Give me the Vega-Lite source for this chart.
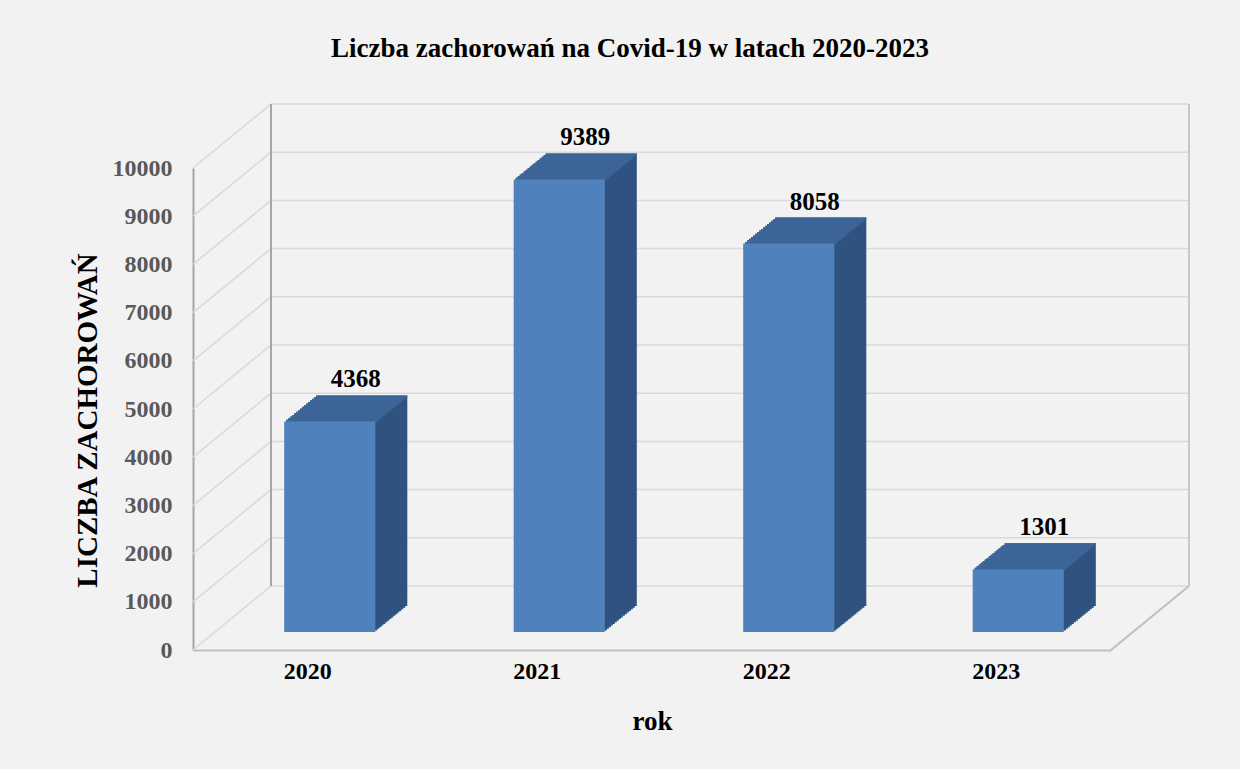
{
  "$schema": "https://vega.github.io/schema/vega-lite/v6.json",
  "width": 918,
  "height": 482,
  "autosize": {"type": "none"},
  "padding": {"left": 193, "top": 168, "right": 129, "bottom": 119},
  "background": "#f2f2f2",
  "config": {
    "view": {"stroke": null},
    "font": "Liberation Serif"
  },
  "title": {
    "text": "Liczba zachorowań na Covid-19 w latach 2020-2023",
    "font": "Liberation Serif",
    "fontSize": 27,
    "fontWeight": "bold",
    "color": "#000000",
    "anchor": "middle",
    "frame": "group",
    "dx": -22,
    "offset": 40
  },
  "datasets": {
    "covid": [
      {"rok": "2020", "value": 4368},
      {"rok": "2021", "value": 9389},
      {"rok": "2022", "value": 8058},
      {"rok": "2023", "value": 1301}
    ],
    "grid": [
      {"v": 0}, {"v": 1000}, {"v": 2000}, {"v": 3000}, {"v": 4000}, {"v": 5000},
      {"v": 6000}, {"v": 7000}, {"v": 8000}, {"v": 9000}, {"v": 10000}
    ],
    "one": [{"edge": "frame"}]
  },
  "data": {"name": "covid"},
  "layer": [
    {
      "data": {"name": "grid"},
      "mark": {"type": "rule", "color": "#d9d9d9", "strokeWidth": 1.5, "xOffset": 78, "x2Offset": 78, "yOffset": -64},
      "encoding": {
        "x": {"datum": "2020", "type": "nominal", "bandPosition": 0},
        "x2": {"datum": "2023", "bandPosition": 1},
        "y": {"field": "v", "type": "quantitative"}
      }
    },
    {
      "data": {"name": "grid"},
      "mark": {"type": "rule", "color": "#d9d9d9", "strokeWidth": 1.5, "x2Offset": 78, "y2Offset": -64},
      "encoding": {
        "x": {"datum": "2020", "type": "nominal", "bandPosition": 0},
        "x2": {"datum": "2020", "bandPosition": 0},
        "y": {"field": "v", "type": "quantitative"},
        "y2": {"field": "v"}
      }
    },
    {
      "data": {"name": "one"},
      "mark": {"type": "rule", "color": "#a6a6a6", "strokeWidth": 2, "xOffset": 78, "yOffset": -64, "y2Offset": -64},
      "encoding": {
        "x": {"datum": "2020", "type": "nominal", "bandPosition": 0},
        "y": {"datum": 0, "type": "quantitative"},
        "y2": {"datum": 10000}
      }
    },
    {
      "data": {"name": "one"},
      "mark": {"type": "rule", "color": "#c8c8c8", "strokeWidth": 2, "xOffset": 78, "yOffset": -64, "y2Offset": -64},
      "encoding": {
        "x": {"datum": "2023", "type": "nominal", "bandPosition": 1},
        "y": {"datum": 0, "type": "quantitative"},
        "y2": {"datum": 10000}
      }
    },
    {
      "data": {"name": "one"},
      "mark": {"type": "rule", "color": "#bfbfbf", "strokeWidth": 2, "x2Offset": 78, "y2Offset": -64},
      "encoding": {
        "x": {"datum": "2023", "type": "nominal", "bandPosition": 1},
        "x2": {"datum": "2023", "bandPosition": 1},
        "y": {"datum": 0, "type": "quantitative"},
        "y2": {"datum": 0}
      }
    },
    {"mark": {"type": "bar", "color": "#30527f", "width": {"band": 0.397}, "xOffset": 54, "yOffset": -44, "y2Offset": -44}, "encoding": {"x": {"field": "rok", "type": "nominal"}, "y": {"field": "value", "type": "quantitative"}}},
    {"mark": {"type": "bar", "color": "#30527f", "width": {"band": 0.397}, "xOffset": 52, "yOffset": -42.375, "y2Offset": -42.375}, "encoding": {"x": {"field": "rok", "type": "nominal"}, "y": {"field": "value", "type": "quantitative"}}},
    {"mark": {"type": "bar", "color": "#30527f", "width": {"band": 0.397}, "xOffset": 50, "yOffset": -40.75, "y2Offset": -40.75}, "encoding": {"x": {"field": "rok", "type": "nominal"}, "y": {"field": "value", "type": "quantitative"}}},
    {"mark": {"type": "bar", "color": "#30527f", "width": {"band": 0.397}, "xOffset": 48, "yOffset": -39.125, "y2Offset": -39.125}, "encoding": {"x": {"field": "rok", "type": "nominal"}, "y": {"field": "value", "type": "quantitative"}}},
    {"mark": {"type": "bar", "color": "#30527f", "width": {"band": 0.397}, "xOffset": 46, "yOffset": -37.5, "y2Offset": -37.5}, "encoding": {"x": {"field": "rok", "type": "nominal"}, "y": {"field": "value", "type": "quantitative"}}},
    {"mark": {"type": "bar", "color": "#30527f", "width": {"band": 0.397}, "xOffset": 44, "yOffset": -35.875, "y2Offset": -35.875}, "encoding": {"x": {"field": "rok", "type": "nominal"}, "y": {"field": "value", "type": "quantitative"}}},
    {"mark": {"type": "bar", "color": "#30527f", "width": {"band": 0.397}, "xOffset": 42, "yOffset": -34.25, "y2Offset": -34.25}, "encoding": {"x": {"field": "rok", "type": "nominal"}, "y": {"field": "value", "type": "quantitative"}}},
    {"mark": {"type": "bar", "color": "#30527f", "width": {"band": 0.397}, "xOffset": 40, "yOffset": -32.625, "y2Offset": -32.625}, "encoding": {"x": {"field": "rok", "type": "nominal"}, "y": {"field": "value", "type": "quantitative"}}},
    {"mark": {"type": "bar", "color": "#30527f", "width": {"band": 0.397}, "xOffset": 38, "yOffset": -31, "y2Offset": -31}, "encoding": {"x": {"field": "rok", "type": "nominal"}, "y": {"field": "value", "type": "quantitative"}}},
    {"mark": {"type": "bar", "color": "#30527f", "width": {"band": 0.397}, "xOffset": 36, "yOffset": -29.375, "y2Offset": -29.375}, "encoding": {"x": {"field": "rok", "type": "nominal"}, "y": {"field": "value", "type": "quantitative"}}},
    {"mark": {"type": "bar", "color": "#30527f", "width": {"band": 0.397}, "xOffset": 34, "yOffset": -27.75, "y2Offset": -27.75}, "encoding": {"x": {"field": "rok", "type": "nominal"}, "y": {"field": "value", "type": "quantitative"}}},
    {"mark": {"type": "bar", "color": "#30527f", "width": {"band": 0.397}, "xOffset": 32, "yOffset": -26.125, "y2Offset": -26.125}, "encoding": {"x": {"field": "rok", "type": "nominal"}, "y": {"field": "value", "type": "quantitative"}}},
    {"mark": {"type": "bar", "color": "#30527f", "width": {"band": 0.397}, "xOffset": 30, "yOffset": -24.5, "y2Offset": -24.5}, "encoding": {"x": {"field": "rok", "type": "nominal"}, "y": {"field": "value", "type": "quantitative"}}},
    {"mark": {"type": "bar", "color": "#30527f", "width": {"band": 0.397}, "xOffset": 28, "yOffset": -22.875, "y2Offset": -22.875}, "encoding": {"x": {"field": "rok", "type": "nominal"}, "y": {"field": "value", "type": "quantitative"}}},
    {"mark": {"type": "bar", "color": "#30527f", "width": {"band": 0.397}, "xOffset": 26, "yOffset": -21.25, "y2Offset": -21.25}, "encoding": {"x": {"field": "rok", "type": "nominal"}, "y": {"field": "value", "type": "quantitative"}}},
    {"mark": {"type": "bar", "color": "#30527f", "width": {"band": 0.397}, "xOffset": 24, "yOffset": -19.625, "y2Offset": -19.625}, "encoding": {"x": {"field": "rok", "type": "nominal"}, "y": {"field": "value", "type": "quantitative"}}},
    {"mark": {"type": "bar", "color": "#3c6597", "width": {"band": 0.397}, "xOffset": 24, "yOffset": -19.625, "y2Offset": -17.425}, "encoding": {"x": {"field": "rok", "type": "nominal"}, "y": {"field": "value", "type": "quantitative"}, "y2": {"field": "value"}}},
    {"mark": {"type": "bar", "color": "#3c6597", "width": {"band": 0.397}, "xOffset": 26, "yOffset": -21.25, "y2Offset": -19.05}, "encoding": {"x": {"field": "rok", "type": "nominal"}, "y": {"field": "value", "type": "quantitative"}, "y2": {"field": "value"}}},
    {"mark": {"type": "bar", "color": "#3c6597", "width": {"band": 0.397}, "xOffset": 28, "yOffset": -22.875, "y2Offset": -20.675}, "encoding": {"x": {"field": "rok", "type": "nominal"}, "y": {"field": "value", "type": "quantitative"}, "y2": {"field": "value"}}},
    {"mark": {"type": "bar", "color": "#3c6597", "width": {"band": 0.397}, "xOffset": 30, "yOffset": -24.5, "y2Offset": -22.3}, "encoding": {"x": {"field": "rok", "type": "nominal"}, "y": {"field": "value", "type": "quantitative"}, "y2": {"field": "value"}}},
    {"mark": {"type": "bar", "color": "#3c6597", "width": {"band": 0.397}, "xOffset": 32, "yOffset": -26.125, "y2Offset": -23.925}, "encoding": {"x": {"field": "rok", "type": "nominal"}, "y": {"field": "value", "type": "quantitative"}, "y2": {"field": "value"}}},
    {"mark": {"type": "bar", "color": "#3c6597", "width": {"band": 0.397}, "xOffset": 34, "yOffset": -27.75, "y2Offset": -25.55}, "encoding": {"x": {"field": "rok", "type": "nominal"}, "y": {"field": "value", "type": "quantitative"}, "y2": {"field": "value"}}},
    {"mark": {"type": "bar", "color": "#3c6597", "width": {"band": 0.397}, "xOffset": 36, "yOffset": -29.375, "y2Offset": -27.175}, "encoding": {"x": {"field": "rok", "type": "nominal"}, "y": {"field": "value", "type": "quantitative"}, "y2": {"field": "value"}}},
    {"mark": {"type": "bar", "color": "#3c6597", "width": {"band": 0.397}, "xOffset": 38, "yOffset": -31, "y2Offset": -28.8}, "encoding": {"x": {"field": "rok", "type": "nominal"}, "y": {"field": "value", "type": "quantitative"}, "y2": {"field": "value"}}},
    {"mark": {"type": "bar", "color": "#3c6597", "width": {"band": 0.397}, "xOffset": 40, "yOffset": -32.625, "y2Offset": -30.425}, "encoding": {"x": {"field": "rok", "type": "nominal"}, "y": {"field": "value", "type": "quantitative"}, "y2": {"field": "value"}}},
    {"mark": {"type": "bar", "color": "#3c6597", "width": {"band": 0.397}, "xOffset": 42, "yOffset": -34.25, "y2Offset": -32.05}, "encoding": {"x": {"field": "rok", "type": "nominal"}, "y": {"field": "value", "type": "quantitative"}, "y2": {"field": "value"}}},
    {"mark": {"type": "bar", "color": "#3c6597", "width": {"band": 0.397}, "xOffset": 44, "yOffset": -35.875, "y2Offset": -33.675}, "encoding": {"x": {"field": "rok", "type": "nominal"}, "y": {"field": "value", "type": "quantitative"}, "y2": {"field": "value"}}},
    {"mark": {"type": "bar", "color": "#3c6597", "width": {"band": 0.397}, "xOffset": 46, "yOffset": -37.5, "y2Offset": -35.3}, "encoding": {"x": {"field": "rok", "type": "nominal"}, "y": {"field": "value", "type": "quantitative"}, "y2": {"field": "value"}}},
    {"mark": {"type": "bar", "color": "#3c6597", "width": {"band": 0.397}, "xOffset": 48, "yOffset": -39.125, "y2Offset": -36.925}, "encoding": {"x": {"field": "rok", "type": "nominal"}, "y": {"field": "value", "type": "quantitative"}, "y2": {"field": "value"}}},
    {"mark": {"type": "bar", "color": "#3c6597", "width": {"band": 0.397}, "xOffset": 50, "yOffset": -40.75, "y2Offset": -38.55}, "encoding": {"x": {"field": "rok", "type": "nominal"}, "y": {"field": "value", "type": "quantitative"}, "y2": {"field": "value"}}},
    {"mark": {"type": "bar", "color": "#3c6597", "width": {"band": 0.397}, "xOffset": 52, "yOffset": -42.375, "y2Offset": -40.175}, "encoding": {"x": {"field": "rok", "type": "nominal"}, "y": {"field": "value", "type": "quantitative"}, "y2": {"field": "value"}}},
    {"mark": {"type": "bar", "color": "#3c6597", "width": {"band": 0.397}, "xOffset": 54, "yOffset": -44, "y2Offset": -41.8}, "encoding": {"x": {"field": "rok", "type": "nominal"}, "y": {"field": "value", "type": "quantitative"}, "y2": {"field": "value"}}},
    {
      "mark": {"type": "bar", "color": "#4f81bd", "width": {"band": 0.397}, "xOffset": 22, "yOffset": -18, "y2Offset": -18},
      "encoding": {
        "x": {
          "field": "rok", "type": "nominal",
          "scale": {"domain": ["2020", "2021", "2022", "2023"], "paddingInner": 0, "paddingOuter": 0},
          "axis": {
            "title": "rok", "labelAngle": 0, "labelAlign": "center", "bandPosition": 0.5,
            "ticks": false, "tickSize": 0, "labelPadding": 21,
            "domain": true, "domainColor": "#bfbfbf", "domainWidth": 2,
            "labelFont": "Liberation Serif", "labelFontSize": 24, "labelFontWeight": "bold", "labelColor": "#000000",
            "titleFont": "Liberation Serif", "titleFontSize": 27, "titleFontWeight": "bold", "titleColor": "#000000", "titlePadding": 25,
            "grid": false
          }
        },
        "y": {
          "field": "value", "type": "quantitative",
          "scale": {"domain": [0, 10000], "nice": false, "zero": true},
          "axis": {
            "title": "LICZBA ZACHOROWAŃ",
            "values": [0, 1000, 2000, 3000, 4000, 5000, 6000, 7000, 8000, 9000, 10000],
            "format": "d", "grid": false, "ticks": false, "tickSize": 0, "labelPadding": 21,
            "labelOverlap": false,
            "domain": true, "domainColor": "#a6a6a6", "domainWidth": 2,
            "labelFont": "Liberation Serif", "labelFontSize": 24, "labelFontWeight": "bold", "labelColor": "#595959",
            "titleFont": "Liberation Serif", "titleFontSize": 29, "titleFontWeight": "bold", "titleColor": "#000000",
            "titlePadding": 10, "titleY": 252
          }
        }
      }
    },
    {
      "mark": {"type": "text", "font": "Liberation Serif", "fontSize": 25, "fontWeight": "bold", "color": "#000000", "align": "center", "baseline": "alphabetic", "xOffset": 48, "yOffset": -52},
      "encoding": {
        "x": {"field": "rok", "type": "nominal"},
        "y": {"field": "value", "type": "quantitative"},
        "text": {"field": "value", "type": "quantitative", "format": "d"}
      }
    }
  ]
}
